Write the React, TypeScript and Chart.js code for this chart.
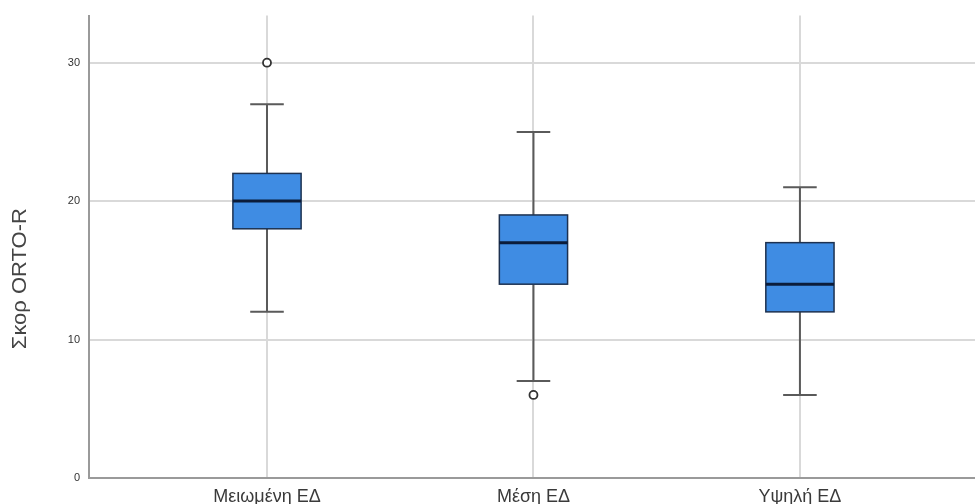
import React, { useEffect, useRef } from "react";
import { Chart, registerables } from "chart.js";

Chart.register(...registerables);

const categories = ["Μειωμένη ΕΔ", "Μέση ΕΔ", "Υψηλή ΕΔ"];
const whiskerLow = [12, 7, 6];
const q1 = [18, 14, 12];
const median = [20, 17, 14];
const q3 = [22, 19, 17];
const whiskerHigh = [27, 25, 21];
const outlierGroup = [0, 1];
const outlierValue = [30, 6];
const yTicks = [0, 10, 20, 30];
const yTitle = "Σκορ ORTO-R";

const FONT = "'Liberation Sans', Arial, sans-serif";

const boxPlugin = {
  id: "boxplotDraw",
  beforeDatasetsDraw(chart: any) {
    const ctx = chart.ctx;
    const xs = chart.scales.x;
    const ys = chart.scales.y;
    const halfBox = xs.getPixelForValue(0.128) - xs.getPixelForValue(0);
    const halfCap = xs.getPixelForValue(0.063) - xs.getPixelForValue(0);
    ctx.save();
    categories.forEach((_, i) => {
      const cx = xs.getPixelForValue(i);
      const yLo = ys.getPixelForValue(whiskerLow[i]);
      const yQ1 = ys.getPixelForValue(q1[i]);
      const yMed = ys.getPixelForValue(median[i]);
      const yQ3 = ys.getPixelForValue(q3[i]);
      const yHi = ys.getPixelForValue(whiskerHigh[i]);
      ctx.strokeStyle = "#5a5a5a";
      ctx.lineWidth = 2;
      ctx.beginPath();
      ctx.moveTo(cx, yLo);
      ctx.lineTo(cx, yQ1);
      ctx.moveTo(cx, yQ3);
      ctx.lineTo(cx, yHi);
      ctx.moveTo(cx - halfCap, yLo);
      ctx.lineTo(cx + halfCap, yLo);
      ctx.moveTo(cx - halfCap, yHi);
      ctx.lineTo(cx + halfCap, yHi);
      ctx.stroke();
      ctx.fillStyle = "#3f8ce3";
      ctx.fillRect(cx - halfBox, yQ3, halfBox * 2, yQ1 - yQ3);
      ctx.strokeStyle = "#1d3150";
      ctx.lineWidth = 1.5;
      ctx.strokeRect(cx - halfBox, yQ3, halfBox * 2, yQ1 - yQ3);
      ctx.strokeStyle = "#0b1c3a";
      ctx.lineWidth = 3;
      ctx.beginPath();
      ctx.moveTo(cx - halfBox, yMed);
      ctx.lineTo(cx + halfBox, yMed);
      ctx.stroke();
    });
    ctx.restore();
  },
  afterDraw(chart: any) {
    const ctx = chart.ctx;
    const ys = chart.scales.y;
    // axis title, placed slightly below the axis middle as in the reference
    const cy = ys.getPixelForValue(14.4);
    ctx.save();
    ctx.translate(20, cy);
    ctx.rotate(-Math.PI / 2);
    ctx.scale(1.1, 1);
    ctx.font = `20px ${FONT}`;
    ctx.fillStyle = "#444";
    ctx.textAlign = "center";
    ctx.textBaseline = "middle";
    ctx.fillText(yTitle, 0, 0);
    ctx.restore();
  },
};

export default function App() {
  const ref = useRef<HTMLCanvasElement>(null);
  useEffect(() => {
    document.body.style.margin = "0";
    const chart = new Chart(ref.current as HTMLCanvasElement, {
      type: "scatter",
      data: {
        datasets: [
          {
            data: outlierGroup.map((g, i) => ({ x: g, y: outlierValue[i] })),
            pointRadius: 4,
            pointBackgroundColor: "#ffffff",
            pointBorderColor: "#333333",
            pointBorderWidth: 1.8,
          },
        ],
      },
      options: {
        animation: false,
        responsive: false,
        maintainAspectRatio: false,
        layout: { autoPadding: false, padding: { top: 15, right: 0, left: 0, bottom: 0 } },
        plugins: { legend: { display: false }, tooltip: { enabled: false } },
        scales: {
          x: {
            type: "linear",
            min: -0.668,
            max: 2.657,
            afterBuildTicks: (s: any) => {
              s.ticks = categories.map((_, i) => ({ value: i }));
            },
            ticks: {
              callback: (v: any) => categories[v as number],
              font: { family: FONT, size: 18 },
              color: "#3a3a3a",
              padding: 8,
              maxRotation: 0,
              autoSkip: false,
            },
            grid: { color: "#d9d9d9", lineWidth: 2, drawTicks: false },
            border: { color: "#9a9a9a", width: 2 },
            afterFit: (s: any) => {
              s.height = 26;
            },
          },
          y: {
            type: "linear",
            min: 0,
            max: 33.4,
            afterBuildTicks: (s: any) => {
              s.ticks = yTicks.map((v) => ({ value: v }));
            },
            ticks: {
              font: { family: FONT, size: 11 },
              color: "#333",
              padding: 9,
            },
            grid: { color: "#d9d9d9", lineWidth: 2, drawTicks: false },
            border: { color: "#9a9a9a", width: 2 },
            afterFit: (s: any) => {
              s.width = 89;
            },
          },
        },
      },
      plugins: [boxPlugin],
    });
    return () => chart.destroy();
  }, []);
  return <canvas ref={ref} width={975} height={504} style={{ display: "block" }} />;
}
